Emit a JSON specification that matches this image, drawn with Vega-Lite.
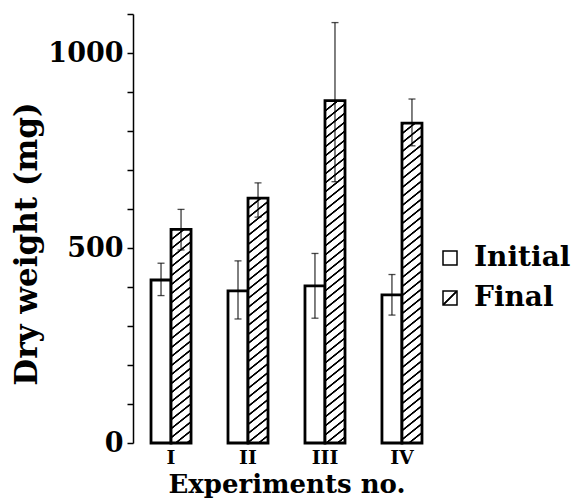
{
  "$schema": "https://vega.github.io/schema/vega-lite/v6.json",
  "autosize": {"type": "none"},
  "padding": {"left": 133, "top": 14, "right": 143, "bottom": 57},
  "width": 307,
  "height": 429,
  "background": "#ffffff",
  "config": {
    "view": {"stroke": null},
    "font": "DejaVu Serif",
    "axisY": {
      "labelExpr": "(datum.value == 0 || datum.value == 500 || datum.value == 1000) ? format(datum.value, 'd') : ''",
      "grid": false, "labelOverlap": false, "labelFlush": false,
      "domainColor": "#000", "domainWidth": 1.5, "tickColor": "#000", "tickWidth": 1.5,
      "tickSize": 6, "labelPadding": 4, "labelFont": "DejaVu Serif", "labelFontWeight": "bold",
      "labelFontSize": 27, "labelColor": "#000", "titleFont": "DejaVu Serif", "titleFontWeight": "bold",
      "titleFontSize": 31, "titleColor": "#000", "titleX": -97, "titleY": 229.5, "titleAngle": -90,
      "titleBaseline": "alphabetic", "titleAlign": "center"
    }
  },
  "data": {"values": [
    {"Experiment": "I", "Group": "Initial", "value": 418, "lower": 378, "upper": 461},
    {"Experiment": "I", "Group": "Final", "value": 548, "lower": 495, "upper": 599},
    {"Experiment": "II", "Group": "Initial", "value": 390, "lower": 318, "upper": 467},
    {"Experiment": "II", "Group": "Final", "value": 628, "lower": 579, "upper": 667},
    {"Experiment": "III", "Group": "Initial", "value": 403, "lower": 320, "upper": 486},
    {"Experiment": "III", "Group": "Final", "value": 878, "lower": 670, "upper": 1078},
    {"Experiment": "IV", "Group": "Initial", "value": 380, "lower": 328, "upper": 432},
    {"Experiment": "IV", "Group": "Final", "value": 820, "lower": 762, "upper": 882}
  ]},
  "encoding": {
    "x": {"field": "Experiment", "type": "nominal", "sort": ["I", "II", "III", "IV"],
      "scale": {"paddingInner": 0.48, "paddingOuter": 0.234},
      "axis": {"title": "Experiments no.", "domain": false, "ticks": false, "tickSize": 0, "labelAngle": 0,
        "labelPadding": 20, "labelBaseline": "alphabetic", "labelFont": "DejaVu Serif", "labelFontWeight": "bold",
        "labelFontSize": 19, "labelColor": "#000", "titleFont": "DejaVu Serif", "titleFontWeight": "bold",
        "titleFontSize": 26, "titleColor": "#000", "titleY": 49, "titleBaseline": "alphabetic"}},
    "xOffset": {"field": "Group", "type": "nominal", "sort": ["Initial", "Final"],
      "scale": {"domain": ["Initial", "Final"], "paddingInner": 0, "paddingOuter": 0}}
  },
  "layer": [
    {
      "transform": [{"filter": "datum.Group === 'Initial'"}],
      "mark": {"type": "bar", "stroke": "#000", "strokeWidth": 2.8},
      "encoding": {
        "y": {"field": "value", "type": "quantitative", "title": "Dry weight (mg)",
          "scale": {"domain": [0, 1100], "nice": false},
          "axis": {"values": [0, 100, 200, 300, 400, 500, 600, 700, 800, 900, 1000, 1100]}},
        "fill": {"field": "Group", "type": "nominal",
          "scale": {"domain": ["Initial", "Final"], "range": ["#ffffff", {"expr": "{gradient:'linear',x1:0,y1:0,x2:1,y2:1,stops:[{offset:0,color:'#fff'},{offset:0.44,color:'#fff'},{offset:0.47,color:'#000'},{offset:0.53,color:'#000'},{offset:0.56,color:'#fff'},{offset:1,color:'#fff'}]}"}]},
          "legend": {"title": null, "orient": "none", "legendX": 303, "legendY": 230, "padding": 0,
            "symbolType": "square", "symbolSize": 196, "symbolStrokeColor": "#000", "symbolStrokeWidth": 1.5,
            "symbolOpacity": 1, "labelFont": "DejaVu Serif", "labelFontWeight": "bold", "labelFontSize": 28,
            "labelColor": "#000", "labelOffset": 10, "rowPadding": 12}}
      }
    },
    {
      "transform": [{"filter": "datum.Group === 'Final' && datum.Experiment === 'I'"}],
      "mark": {"type": "bar", "stroke": "#000", "strokeWidth": 2.8,
        "fill": {"gradient": "linear", "x1": 0, "y1": 0, "x2": 0.1254, "y2": 1.67505, "stops": [
{"offset":0,"color":"#fff"},{"offset":0.002,"color":"#000"},{"offset":0.006,"color":"#000"},{"offset":0.008,"color":"#fff"},
{"offset":0.025,"color":"#fff"},{"offset":0.027,"color":"#000"},{"offset":0.031,"color":"#000"},{"offset":0.033,"color":"#fff"},
{"offset":0.05,"color":"#fff"},{"offset":0.052,"color":"#000"},{"offset":0.056,"color":"#000"},{"offset":0.058,"color":"#fff"},
{"offset":0.075,"color":"#fff"},{"offset":0.077,"color":"#000"},{"offset":0.081,"color":"#000"},{"offset":0.083,"color":"#fff"},
{"offset":0.1,"color":"#fff"},{"offset":0.102,"color":"#000"},{"offset":0.106,"color":"#000"},{"offset":0.108,"color":"#fff"},
{"offset":0.125,"color":"#fff"},{"offset":0.127,"color":"#000"},{"offset":0.131,"color":"#000"},{"offset":0.133,"color":"#fff"},
{"offset":0.15,"color":"#fff"},{"offset":0.152,"color":"#000"},{"offset":0.156,"color":"#000"},{"offset":0.158,"color":"#fff"},
{"offset":0.175,"color":"#fff"},{"offset":0.177,"color":"#000"},{"offset":0.181,"color":"#000"},{"offset":0.183,"color":"#fff"},
{"offset":0.2,"color":"#fff"},{"offset":0.202,"color":"#000"},{"offset":0.206,"color":"#000"},{"offset":0.208,"color":"#fff"},
{"offset":0.225,"color":"#fff"},{"offset":0.227,"color":"#000"},{"offset":0.231,"color":"#000"},{"offset":0.233,"color":"#fff"},
{"offset":0.25,"color":"#fff"},{"offset":0.252,"color":"#000"},{"offset":0.256,"color":"#000"},{"offset":0.258,"color":"#fff"},
{"offset":0.275,"color":"#fff"},{"offset":0.277,"color":"#000"},{"offset":0.281,"color":"#000"},{"offset":0.283,"color":"#fff"},
{"offset":0.3,"color":"#fff"},{"offset":0.302,"color":"#000"},{"offset":0.306,"color":"#000"},{"offset":0.308,"color":"#fff"},
{"offset":0.325,"color":"#fff"},{"offset":0.327,"color":"#000"},{"offset":0.331,"color":"#000"},{"offset":0.333,"color":"#fff"},
{"offset":0.35,"color":"#fff"},{"offset":0.352,"color":"#000"},{"offset":0.356,"color":"#000"},{"offset":0.358,"color":"#fff"},
{"offset":0.375,"color":"#fff"},{"offset":0.377,"color":"#000"},{"offset":0.381,"color":"#000"},{"offset":0.383,"color":"#fff"},
{"offset":0.4,"color":"#fff"},{"offset":0.402,"color":"#000"},{"offset":0.406,"color":"#000"},{"offset":0.408,"color":"#fff"},
{"offset":0.425,"color":"#fff"},{"offset":0.427,"color":"#000"},{"offset":0.431,"color":"#000"},{"offset":0.433,"color":"#fff"},
{"offset":0.45,"color":"#fff"},{"offset":0.452,"color":"#000"},{"offset":0.456,"color":"#000"},{"offset":0.458,"color":"#fff"},
{"offset":0.475,"color":"#fff"},{"offset":0.477,"color":"#000"},{"offset":0.481,"color":"#000"},{"offset":0.483,"color":"#fff"},
{"offset":0.5,"color":"#fff"},{"offset":0.502,"color":"#000"},{"offset":0.506,"color":"#000"},{"offset":0.508,"color":"#fff"},
{"offset":0.525,"color":"#fff"},{"offset":0.527,"color":"#000"},{"offset":0.531,"color":"#000"},{"offset":0.533,"color":"#fff"},
{"offset":0.55,"color":"#fff"},{"offset":0.552,"color":"#000"},{"offset":0.556,"color":"#000"},{"offset":0.558,"color":"#fff"},
{"offset":0.575,"color":"#fff"},{"offset":0.577,"color":"#000"},{"offset":0.581,"color":"#000"},{"offset":0.583,"color":"#fff"},
{"offset":0.6,"color":"#fff"},{"offset":0.602,"color":"#000"},{"offset":0.606,"color":"#000"},{"offset":0.608,"color":"#fff"},
{"offset":0.625,"color":"#fff"},{"offset":0.627,"color":"#000"},{"offset":0.631,"color":"#000"},{"offset":0.633,"color":"#fff"},
{"offset":0.65,"color":"#fff"},{"offset":0.652,"color":"#000"},{"offset":0.656,"color":"#000"},{"offset":0.658,"color":"#fff"}
        ]}},
      "encoding": {"y": {"field": "value", "type": "quantitative", "title": "Dry weight (mg)",
        "axis": {"values": [0, 100, 200, 300, 400, 500, 600, 700, 800, 900, 1000, 1100]}}}
    },
    {
      "transform": [{"filter": "datum.Group === 'Final' && datum.Experiment === 'II'"}],
      "mark": {"type": "bar", "stroke": "#000", "strokeWidth": 2.8,
        "fill": {"gradient": "linear", "x1": 0, "y1": 0, "x2": 0.095615, "y2": 1.46363, "stops": [
{"offset":0,"color":"#fff"},{"offset":0.002,"color":"#000"},{"offset":0.006,"color":"#000"},{"offset":0.008,"color":"#fff"},
{"offset":0.025,"color":"#fff"},{"offset":0.027,"color":"#000"},{"offset":0.031,"color":"#000"},{"offset":0.033,"color":"#fff"},
{"offset":0.05,"color":"#fff"},{"offset":0.052,"color":"#000"},{"offset":0.056,"color":"#000"},{"offset":0.058,"color":"#fff"},
{"offset":0.075,"color":"#fff"},{"offset":0.077,"color":"#000"},{"offset":0.081,"color":"#000"},{"offset":0.083,"color":"#fff"},
{"offset":0.1,"color":"#fff"},{"offset":0.102,"color":"#000"},{"offset":0.106,"color":"#000"},{"offset":0.108,"color":"#fff"},
{"offset":0.125,"color":"#fff"},{"offset":0.127,"color":"#000"},{"offset":0.131,"color":"#000"},{"offset":0.133,"color":"#fff"},
{"offset":0.15,"color":"#fff"},{"offset":0.152,"color":"#000"},{"offset":0.156,"color":"#000"},{"offset":0.158,"color":"#fff"},
{"offset":0.175,"color":"#fff"},{"offset":0.177,"color":"#000"},{"offset":0.181,"color":"#000"},{"offset":0.183,"color":"#fff"},
{"offset":0.2,"color":"#fff"},{"offset":0.202,"color":"#000"},{"offset":0.206,"color":"#000"},{"offset":0.208,"color":"#fff"},
{"offset":0.225,"color":"#fff"},{"offset":0.227,"color":"#000"},{"offset":0.231,"color":"#000"},{"offset":0.233,"color":"#fff"},
{"offset":0.25,"color":"#fff"},{"offset":0.252,"color":"#000"},{"offset":0.256,"color":"#000"},{"offset":0.258,"color":"#fff"},
{"offset":0.275,"color":"#fff"},{"offset":0.277,"color":"#000"},{"offset":0.281,"color":"#000"},{"offset":0.283,"color":"#fff"},
{"offset":0.3,"color":"#fff"},{"offset":0.302,"color":"#000"},{"offset":0.306,"color":"#000"},{"offset":0.308,"color":"#fff"},
{"offset":0.325,"color":"#fff"},{"offset":0.327,"color":"#000"},{"offset":0.331,"color":"#000"},{"offset":0.333,"color":"#fff"},
{"offset":0.35,"color":"#fff"},{"offset":0.352,"color":"#000"},{"offset":0.356,"color":"#000"},{"offset":0.358,"color":"#fff"},
{"offset":0.375,"color":"#fff"},{"offset":0.377,"color":"#000"},{"offset":0.381,"color":"#000"},{"offset":0.383,"color":"#fff"},
{"offset":0.4,"color":"#fff"},{"offset":0.402,"color":"#000"},{"offset":0.406,"color":"#000"},{"offset":0.408,"color":"#fff"},
{"offset":0.425,"color":"#fff"},{"offset":0.427,"color":"#000"},{"offset":0.431,"color":"#000"},{"offset":0.433,"color":"#fff"},
{"offset":0.45,"color":"#fff"},{"offset":0.452,"color":"#000"},{"offset":0.456,"color":"#000"},{"offset":0.458,"color":"#fff"},
{"offset":0.475,"color":"#fff"},{"offset":0.477,"color":"#000"},{"offset":0.481,"color":"#000"},{"offset":0.483,"color":"#fff"},
{"offset":0.5,"color":"#fff"},{"offset":0.502,"color":"#000"},{"offset":0.506,"color":"#000"},{"offset":0.508,"color":"#fff"},
{"offset":0.525,"color":"#fff"},{"offset":0.527,"color":"#000"},{"offset":0.531,"color":"#000"},{"offset":0.533,"color":"#fff"},
{"offset":0.55,"color":"#fff"},{"offset":0.552,"color":"#000"},{"offset":0.556,"color":"#000"},{"offset":0.558,"color":"#fff"},
{"offset":0.575,"color":"#fff"},{"offset":0.577,"color":"#000"},{"offset":0.581,"color":"#000"},{"offset":0.583,"color":"#fff"},
{"offset":0.6,"color":"#fff"},{"offset":0.602,"color":"#000"},{"offset":0.606,"color":"#000"},{"offset":0.608,"color":"#fff"},
{"offset":0.625,"color":"#fff"},{"offset":0.627,"color":"#000"},{"offset":0.631,"color":"#000"},{"offset":0.633,"color":"#fff"},
{"offset":0.65,"color":"#fff"},{"offset":0.652,"color":"#000"},{"offset":0.656,"color":"#000"},{"offset":0.658,"color":"#fff"},
{"offset":0.675,"color":"#fff"},{"offset":0.677,"color":"#000"},{"offset":0.681,"color":"#000"},{"offset":0.683,"color":"#fff"},
{"offset":0.7,"color":"#fff"},{"offset":0.702,"color":"#000"},{"offset":0.706,"color":"#000"},{"offset":0.708,"color":"#fff"},
{"offset":0.725,"color":"#fff"},{"offset":0.727,"color":"#000"},{"offset":0.731,"color":"#000"},{"offset":0.733,"color":"#fff"}
        ]}},
      "encoding": {"y": {"field": "value", "type": "quantitative", "title": "Dry weight (mg)",
        "axis": {"values": [0, 100, 200, 300, 400, 500, 600, 700, 800, 900, 1000, 1100]}}}
    },
    {
      "transform": [{"filter": "datum.Group === 'Final' && datum.Experiment === 'III'"}],
      "mark": {"type": "bar", "stroke": "#000", "strokeWidth": 2.8,
        "fill": {"gradient": "linear", "x1": 0, "y1": 0, "x2": 0.049018, "y2": 1.04905, "stops": [
{"offset":0,"color":"#fff"},{"offset":0.002,"color":"#000"},{"offset":0.006,"color":"#000"},{"offset":0.008,"color":"#fff"},
{"offset":0.025,"color":"#fff"},{"offset":0.027,"color":"#000"},{"offset":0.031,"color":"#000"},{"offset":0.033,"color":"#fff"},
{"offset":0.05,"color":"#fff"},{"offset":0.052,"color":"#000"},{"offset":0.056,"color":"#000"},{"offset":0.058,"color":"#fff"},
{"offset":0.075,"color":"#fff"},{"offset":0.077,"color":"#000"},{"offset":0.081,"color":"#000"},{"offset":0.083,"color":"#fff"},
{"offset":0.1,"color":"#fff"},{"offset":0.102,"color":"#000"},{"offset":0.106,"color":"#000"},{"offset":0.108,"color":"#fff"},
{"offset":0.125,"color":"#fff"},{"offset":0.127,"color":"#000"},{"offset":0.131,"color":"#000"},{"offset":0.133,"color":"#fff"},
{"offset":0.15,"color":"#fff"},{"offset":0.152,"color":"#000"},{"offset":0.156,"color":"#000"},{"offset":0.158,"color":"#fff"},
{"offset":0.175,"color":"#fff"},{"offset":0.177,"color":"#000"},{"offset":0.181,"color":"#000"},{"offset":0.183,"color":"#fff"},
{"offset":0.2,"color":"#fff"},{"offset":0.202,"color":"#000"},{"offset":0.206,"color":"#000"},{"offset":0.208,"color":"#fff"},
{"offset":0.225,"color":"#fff"},{"offset":0.227,"color":"#000"},{"offset":0.231,"color":"#000"},{"offset":0.233,"color":"#fff"},
{"offset":0.25,"color":"#fff"},{"offset":0.252,"color":"#000"},{"offset":0.256,"color":"#000"},{"offset":0.258,"color":"#fff"},
{"offset":0.275,"color":"#fff"},{"offset":0.277,"color":"#000"},{"offset":0.281,"color":"#000"},{"offset":0.283,"color":"#fff"},
{"offset":0.3,"color":"#fff"},{"offset":0.302,"color":"#000"},{"offset":0.306,"color":"#000"},{"offset":0.308,"color":"#fff"},
{"offset":0.325,"color":"#fff"},{"offset":0.327,"color":"#000"},{"offset":0.331,"color":"#000"},{"offset":0.333,"color":"#fff"},
{"offset":0.35,"color":"#fff"},{"offset":0.352,"color":"#000"},{"offset":0.356,"color":"#000"},{"offset":0.358,"color":"#fff"},
{"offset":0.375,"color":"#fff"},{"offset":0.377,"color":"#000"},{"offset":0.381,"color":"#000"},{"offset":0.383,"color":"#fff"},
{"offset":0.4,"color":"#fff"},{"offset":0.402,"color":"#000"},{"offset":0.406,"color":"#000"},{"offset":0.408,"color":"#fff"},
{"offset":0.425,"color":"#fff"},{"offset":0.427,"color":"#000"},{"offset":0.431,"color":"#000"},{"offset":0.433,"color":"#fff"},
{"offset":0.45,"color":"#fff"},{"offset":0.452,"color":"#000"},{"offset":0.456,"color":"#000"},{"offset":0.458,"color":"#fff"},
{"offset":0.475,"color":"#fff"},{"offset":0.477,"color":"#000"},{"offset":0.481,"color":"#000"},{"offset":0.483,"color":"#fff"},
{"offset":0.5,"color":"#fff"},{"offset":0.502,"color":"#000"},{"offset":0.506,"color":"#000"},{"offset":0.508,"color":"#fff"},
{"offset":0.525,"color":"#fff"},{"offset":0.527,"color":"#000"},{"offset":0.531,"color":"#000"},{"offset":0.533,"color":"#fff"},
{"offset":0.55,"color":"#fff"},{"offset":0.552,"color":"#000"},{"offset":0.556,"color":"#000"},{"offset":0.558,"color":"#fff"},
{"offset":0.575,"color":"#fff"},{"offset":0.577,"color":"#000"},{"offset":0.581,"color":"#000"},{"offset":0.583,"color":"#fff"},
{"offset":0.6,"color":"#fff"},{"offset":0.602,"color":"#000"},{"offset":0.606,"color":"#000"},{"offset":0.608,"color":"#fff"},
{"offset":0.625,"color":"#fff"},{"offset":0.627,"color":"#000"},{"offset":0.631,"color":"#000"},{"offset":0.633,"color":"#fff"},
{"offset":0.65,"color":"#fff"},{"offset":0.652,"color":"#000"},{"offset":0.656,"color":"#000"},{"offset":0.658,"color":"#fff"},
{"offset":0.675,"color":"#fff"},{"offset":0.677,"color":"#000"},{"offset":0.681,"color":"#000"},{"offset":0.683,"color":"#fff"},
{"offset":0.7,"color":"#fff"},{"offset":0.702,"color":"#000"},{"offset":0.706,"color":"#000"},{"offset":0.708,"color":"#fff"},
{"offset":0.725,"color":"#fff"},{"offset":0.727,"color":"#000"},{"offset":0.731,"color":"#000"},{"offset":0.733,"color":"#fff"},
{"offset":0.75,"color":"#fff"},{"offset":0.752,"color":"#000"},{"offset":0.756,"color":"#000"},{"offset":0.758,"color":"#fff"},
{"offset":0.775,"color":"#fff"},{"offset":0.777,"color":"#000"},{"offset":0.781,"color":"#000"},{"offset":0.783,"color":"#fff"},
{"offset":0.8,"color":"#fff"},{"offset":0.802,"color":"#000"},{"offset":0.806,"color":"#000"},{"offset":0.808,"color":"#fff"},
{"offset":0.825,"color":"#fff"},{"offset":0.827,"color":"#000"},{"offset":0.831,"color":"#000"},{"offset":0.833,"color":"#fff"},
{"offset":0.85,"color":"#fff"},{"offset":0.852,"color":"#000"},{"offset":0.856,"color":"#000"},{"offset":0.858,"color":"#fff"},
{"offset":0.875,"color":"#fff"},{"offset":0.877,"color":"#000"},{"offset":0.881,"color":"#000"},{"offset":0.883,"color":"#fff"},
{"offset":0.9,"color":"#fff"},{"offset":0.902,"color":"#000"},{"offset":0.906,"color":"#000"},{"offset":0.908,"color":"#fff"},
{"offset":0.925,"color":"#fff"},{"offset":0.927,"color":"#000"},{"offset":0.931,"color":"#000"},{"offset":0.933,"color":"#fff"},
{"offset":0.95,"color":"#fff"},{"offset":0.952,"color":"#000"},{"offset":0.956,"color":"#000"},{"offset":0.958,"color":"#fff"},
{"offset":0.975,"color":"#fff"},{"offset":0.977,"color":"#000"},{"offset":0.981,"color":"#000"},{"offset":0.983,"color":"#fff"}
        ]}},
      "encoding": {"y": {"field": "value", "type": "quantitative", "title": "Dry weight (mg)",
        "axis": {"values": [0, 100, 200, 300, 400, 500, 600, 700, 800, 900, 1000, 1100]}}}
    },
    {
      "transform": [{"filter": "datum.Group === 'Final' && datum.Experiment === 'IV'"}],
      "mark": {"type": "bar", "stroke": "#000", "strokeWidth": 2.8,
        "fill": {"gradient": "linear", "x1": 0, "y1": 0, "x2": 0.05618, "y2": 1.12289, "stops": [
{"offset":0,"color":"#fff"},{"offset":0.002,"color":"#000"},{"offset":0.006,"color":"#000"},{"offset":0.008,"color":"#fff"},
{"offset":0.025,"color":"#fff"},{"offset":0.027,"color":"#000"},{"offset":0.031,"color":"#000"},{"offset":0.033,"color":"#fff"},
{"offset":0.05,"color":"#fff"},{"offset":0.052,"color":"#000"},{"offset":0.056,"color":"#000"},{"offset":0.058,"color":"#fff"},
{"offset":0.075,"color":"#fff"},{"offset":0.077,"color":"#000"},{"offset":0.081,"color":"#000"},{"offset":0.083,"color":"#fff"},
{"offset":0.1,"color":"#fff"},{"offset":0.102,"color":"#000"},{"offset":0.106,"color":"#000"},{"offset":0.108,"color":"#fff"},
{"offset":0.125,"color":"#fff"},{"offset":0.127,"color":"#000"},{"offset":0.131,"color":"#000"},{"offset":0.133,"color":"#fff"},
{"offset":0.15,"color":"#fff"},{"offset":0.152,"color":"#000"},{"offset":0.156,"color":"#000"},{"offset":0.158,"color":"#fff"},
{"offset":0.175,"color":"#fff"},{"offset":0.177,"color":"#000"},{"offset":0.181,"color":"#000"},{"offset":0.183,"color":"#fff"},
{"offset":0.2,"color":"#fff"},{"offset":0.202,"color":"#000"},{"offset":0.206,"color":"#000"},{"offset":0.208,"color":"#fff"},
{"offset":0.225,"color":"#fff"},{"offset":0.227,"color":"#000"},{"offset":0.231,"color":"#000"},{"offset":0.233,"color":"#fff"},
{"offset":0.25,"color":"#fff"},{"offset":0.252,"color":"#000"},{"offset":0.256,"color":"#000"},{"offset":0.258,"color":"#fff"},
{"offset":0.275,"color":"#fff"},{"offset":0.277,"color":"#000"},{"offset":0.281,"color":"#000"},{"offset":0.283,"color":"#fff"},
{"offset":0.3,"color":"#fff"},{"offset":0.302,"color":"#000"},{"offset":0.306,"color":"#000"},{"offset":0.308,"color":"#fff"},
{"offset":0.325,"color":"#fff"},{"offset":0.327,"color":"#000"},{"offset":0.331,"color":"#000"},{"offset":0.333,"color":"#fff"},
{"offset":0.35,"color":"#fff"},{"offset":0.352,"color":"#000"},{"offset":0.356,"color":"#000"},{"offset":0.358,"color":"#fff"},
{"offset":0.375,"color":"#fff"},{"offset":0.377,"color":"#000"},{"offset":0.381,"color":"#000"},{"offset":0.383,"color":"#fff"},
{"offset":0.4,"color":"#fff"},{"offset":0.402,"color":"#000"},{"offset":0.406,"color":"#000"},{"offset":0.408,"color":"#fff"},
{"offset":0.425,"color":"#fff"},{"offset":0.427,"color":"#000"},{"offset":0.431,"color":"#000"},{"offset":0.433,"color":"#fff"},
{"offset":0.45,"color":"#fff"},{"offset":0.452,"color":"#000"},{"offset":0.456,"color":"#000"},{"offset":0.458,"color":"#fff"},
{"offset":0.475,"color":"#fff"},{"offset":0.477,"color":"#000"},{"offset":0.481,"color":"#000"},{"offset":0.483,"color":"#fff"},
{"offset":0.5,"color":"#fff"},{"offset":0.502,"color":"#000"},{"offset":0.506,"color":"#000"},{"offset":0.508,"color":"#fff"},
{"offset":0.525,"color":"#fff"},{"offset":0.527,"color":"#000"},{"offset":0.531,"color":"#000"},{"offset":0.533,"color":"#fff"},
{"offset":0.55,"color":"#fff"},{"offset":0.552,"color":"#000"},{"offset":0.556,"color":"#000"},{"offset":0.558,"color":"#fff"},
{"offset":0.575,"color":"#fff"},{"offset":0.577,"color":"#000"},{"offset":0.581,"color":"#000"},{"offset":0.583,"color":"#fff"},
{"offset":0.6,"color":"#fff"},{"offset":0.602,"color":"#000"},{"offset":0.606,"color":"#000"},{"offset":0.608,"color":"#fff"},
{"offset":0.625,"color":"#fff"},{"offset":0.627,"color":"#000"},{"offset":0.631,"color":"#000"},{"offset":0.633,"color":"#fff"},
{"offset":0.65,"color":"#fff"},{"offset":0.652,"color":"#000"},{"offset":0.656,"color":"#000"},{"offset":0.658,"color":"#fff"},
{"offset":0.675,"color":"#fff"},{"offset":0.677,"color":"#000"},{"offset":0.681,"color":"#000"},{"offset":0.683,"color":"#fff"},
{"offset":0.7,"color":"#fff"},{"offset":0.702,"color":"#000"},{"offset":0.706,"color":"#000"},{"offset":0.708,"color":"#fff"},
{"offset":0.725,"color":"#fff"},{"offset":0.727,"color":"#000"},{"offset":0.731,"color":"#000"},{"offset":0.733,"color":"#fff"},
{"offset":0.75,"color":"#fff"},{"offset":0.752,"color":"#000"},{"offset":0.756,"color":"#000"},{"offset":0.758,"color":"#fff"},
{"offset":0.775,"color":"#fff"},{"offset":0.777,"color":"#000"},{"offset":0.781,"color":"#000"},{"offset":0.783,"color":"#fff"},
{"offset":0.8,"color":"#fff"},{"offset":0.802,"color":"#000"},{"offset":0.806,"color":"#000"},{"offset":0.808,"color":"#fff"},
{"offset":0.825,"color":"#fff"},{"offset":0.827,"color":"#000"},{"offset":0.831,"color":"#000"},{"offset":0.833,"color":"#fff"},
{"offset":0.85,"color":"#fff"},{"offset":0.852,"color":"#000"},{"offset":0.856,"color":"#000"},{"offset":0.858,"color":"#fff"},
{"offset":0.875,"color":"#fff"},{"offset":0.877,"color":"#000"},{"offset":0.881,"color":"#000"},{"offset":0.883,"color":"#fff"},
{"offset":0.9,"color":"#fff"},{"offset":0.902,"color":"#000"},{"offset":0.906,"color":"#000"},{"offset":0.908,"color":"#fff"},
{"offset":0.925,"color":"#fff"},{"offset":0.927,"color":"#000"},{"offset":0.931,"color":"#000"},{"offset":0.933,"color":"#fff"},
{"offset":0.95,"color":"#fff"},{"offset":0.952,"color":"#000"},{"offset":0.956,"color":"#000"},{"offset":0.958,"color":"#fff"}
        ]}},
      "encoding": {"y": {"field": "value", "type": "quantitative", "title": "Dry weight (mg)",
        "axis": {"values": [0, 100, 200, 300, 400, 500, 600, 700, 800, 900, 1000, 1100]}}}
    },
    {
      "mark": {"type": "rule", "color": "#000", "strokeWidth": 1},
      "encoding": {
        "y": {"field": "lower", "type": "quantitative", "title": "Dry weight (mg)",
          "axis": {"values": [0, 100, 200, 300, 400, 500, 600, 700, 800, 900, 1000, 1100]}},
        "y2": {"field": "upper"}
      }
    },
    {
      "mark": {"type": "tick", "orient": "horizontal", "color": "#000", "size": 7, "thickness": 1.3},
      "encoding": {"y": {"field": "upper", "type": "quantitative", "title": "Dry weight (mg)",
        "axis": {"values": [0, 100, 200, 300, 400, 500, 600, 700, 800, 900, 1000, 1100]}}}
    },
    {
      "mark": {"type": "tick", "orient": "horizontal", "color": "#000", "size": 7, "thickness": 1.3},
      "encoding": {"y": {"field": "lower", "type": "quantitative", "title": "Dry weight (mg)",
        "axis": {"values": [0, 100, 200, 300, 400, 500, 600, 700, 800, 900, 1000, 1100]}}}
    }
  ]
}
